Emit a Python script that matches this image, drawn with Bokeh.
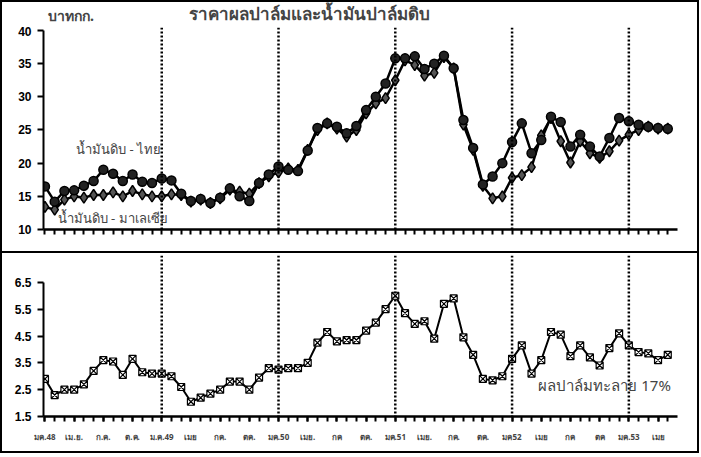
from bokeh.plotting import figure
from bokeh.models import Range1d, FixedTicker, Span, Label
from bokeh.layouts import column
from bokeh.embed import file_html
from bokeh.resources import INLINE

# ---- data (monthly, Jan 2005 .. May 2010) ----
months = list(range(65))
thai_cpo = [16.5, 14.2, 15.8, 15.9, 16.6, 17.3, 19.0, 18.4, 17.3, 18.3, 17.2, 17.0, 17.7, 17.4, 15.4,
            14.3, 14.6, 14.0, 14.8, 16.2, 15.0, 14.3, 17.0, 18.3, 19.5, 19.0, 18.8, 21.9, 25.3, 26.0,
            25.5, 24.5, 25.6, 28.0, 30.0, 32.0, 35.8, 35.8, 36.1, 34.2, 35.0, 36.2, 34.3, 26.5, 22.3,
            16.8, 18.0, 20.0, 23.2, 26.0, 21.5, 23.5, 27.0, 26.2, 22.5, 24.3, 22.5, 21.0, 23.8, 26.8,
            26.3, 25.8, 25.5, 25.3, 25.2]
malay_cpo = [13.4, 13.0, 14.5, 15.0, 14.8, 15.2, 15.2, 15.6, 15.0, 15.8, 15.3, 15.0, 15.0, 15.3, 15.2,
             14.2, 14.5, 14.0, 14.7, 16.0, 15.7, 15.4, 17.0, 18.0, 18.6, 19.2, 19.0, 22.0, 25.0, 26.0,
             25.2, 24.0, 25.0, 27.5, 29.0, 29.8, 32.5, 35.5, 34.8, 33.2, 33.6, 36.0, 34.3, 25.8, 22.0,
             16.6, 14.7, 15.0, 17.8, 18.2, 19.4, 24.2, 26.8, 23.3, 20.1, 23.3, 21.5, 20.8, 21.8, 23.4,
             24.3, 25.0, 25.5, 25.2, 25.2]
palm_ffb = [2.9, 2.3, 2.5, 2.5, 2.7, 3.2, 3.6, 3.55, 3.05, 3.65,
            3.15, 3.1, 3.1, 3.0, 2.6, 2.05, 2.2, 2.35, 2.5, 2.8,
            2.8, 2.5, 2.95, 3.3, 3.25, 3.3, 3.3, 3.5, 4.25, 4.65,
            4.3, 4.35, 4.35, 4.7, 5.0, 5.5, 6.0, 5.35, 4.95, 5.05,
            4.4, 5.7, 5.9, 4.45, 3.8, 2.9, 2.85, 3.0, 3.65, 4.15,
            3.1, 3.6, 4.65, 4.55, 3.75, 4.15, 3.7, 3.4, 4.05, 4.6,
            4.15, 3.9, 3.85, 3.6, 3.8]
tick_positions = list(range(0, 65, 3))
tick_labels = ["มค.48", "เม.ย.", "ก.ค.", "ต.ค.", "ม.ค.49", "เมย", "กค.", "ตค.",
               "มค.50", "เมย.", "กค", "ตค.", "มค.51", "เมย.", "กค.", "ตค.",
               "มค52", "เมย", "กค", "ตค", "มค.53", "เมย"]
year_starts = [12, 24, 36, 48, 60]
top_ticks = [10, 15, 20, 25, 30, 35, 40]
bottom_ticks = [1.5, 2.5, 3.5, 4.5, 5.5, 6.5]
title_text = "ราคาผลปาล์มและน้ำมันปาล์มดิบ"
unit_text = "บาทกก."

W = 695
HEAD = 24


def style_axes(p, yticks, ybounds, xmajor):
    p.xgrid.visible = False
    p.ygrid.visible = False
    p.outline_line_color = None
    p.yaxis.ticker = FixedTicker(ticks=yticks)
    p.yaxis.bounds = ybounds
    p.yaxis.axis_line_width = 2
    p.yaxis.major_tick_line_width = 2
    p.yaxis.major_tick_out = 6
    p.yaxis.major_tick_in = 0
    p.yaxis.minor_tick_line_color = None
    p.yaxis.major_label_text_font = "Liberation Sans"
    p.yaxis.major_label_text_font_style = "bold"
    p.yaxis.major_label_text_font_size = "12px"
    p.yaxis.major_label_text_color = "black"
    p.yaxis.major_label_standoff = 6
    p.xaxis.ticker = FixedTicker(ticks=xmajor, minor_ticks=months)
    p.xaxis.axis_line_width = 2.5
    p.xaxis.major_tick_line_width = 2
    p.xaxis.major_tick_out = 5
    p.xaxis.major_tick_in = 0
    p.xaxis.minor_tick_line_width = 2
    p.xaxis.minor_tick_line_color = "black"
    p.xaxis.minor_tick_out = 5
    p.xaxis.minor_tick_in = 0
    for m in year_starts:
        p.add_layout(Span(location=m, dimension="height", line_color="black",
                          line_width=2.5, line_dash="2 2"))


# ---- header strip with the unit and the title ----
head = figure(width=W, height=HEAD, x_range=Range1d(0, W), y_range=Range1d(0, HEAD),
              output_backend="svg", toolbar_location=None,
              x_axis_location=None, y_axis_location=None,
              min_border_left=0, min_border_right=0, min_border_top=0, min_border_bottom=0)
head.grid.visible = False
head.outline_line_color = None
head.add_layout(Label(x=5, y=11, text=unit_text, text_font="Noto Sans",
                      text_font_style="bold", text_font_size="14px",
                      text_align="left", text_baseline="middle"))
head.add_layout(Label(x=292, y=11.8, text=title_text,
                      text_font="Liberation Serif", text_font_style="bold",
                      text_font_size="17px", text_align="center", text_baseline="middle"))

# ---- top panel: crude palm oil ----
p1 = figure(width=W, height=249 - HEAD, x_range=Range1d(-0.15, 65), y_range=Range1d(10, 40.45),
            output_backend="svg", toolbar_location=None,
            min_border_left=41, min_border_right=W - 41 - 634, min_border_top=1,
            min_border_bottom=22)
style_axes(p1, top_ticks, (10, 40), [])

p1.line(months, malay_cpo, line_color="black", line_width=2.5)
p1.line(months, thai_cpo, line_color="black", line_width=2.5)
p1.scatter(months, malay_cpo, marker="diamond", size=11, fill_color="#555555",
           line_color="black", line_width=1.5)
p1.scatter(months, thai_cpo, marker="circle", size=9, fill_color="#222222",
           line_color="black", line_width=1.5)

p1.add_layout(Label(x=3.2, y=22.1, text="น้ำมันดิบ - ไทย", text_font="Noto Sans",
                    text_font_size="13px", text_align="left", text_baseline="middle"))
p1.add_layout(Label(x=1.3, y=11.8, text="น้ำมันดิบ - มาเลเซีย", text_font="Noto Sans",
                    text_font_size="13px", text_align="left", text_baseline="middle"))

# ---- bottom panel: fresh fruit bunches ----
p2 = figure(width=W, height=200, x_range=p1.x_range, y_range=Range1d(1.5, 7.5),
            output_backend="svg", toolbar_location=None,
            min_border_left=41, min_border_right=W - 41 - 634, min_border_top=2, min_border_bottom=37,
            styles={"border-top": "2px solid black"})
style_axes(p2, bottom_ticks, (1.5, 6.5), tick_positions)
p2.xaxis.major_label_overrides = {pos: lab for pos, lab in zip(tick_positions, tick_labels)}
p2.xaxis.major_label_text_font = "Noto Sans"
p2.xaxis.major_label_text_font_style = "bold"
p2.xaxis.major_label_text_font_size = "8px"
p2.xaxis.major_label_standoff = 9

p2.line(months, palm_ffb, line_color="black", line_width=2)
p2.scatter(months, palm_ffb, marker="square_x", size=7, fill_color="white",
           line_color="black", line_width=1.2)
p2.add_layout(Label(x=50.7, y=2.66, text="ผลปาล์มทะลาย 17%", text_font="Noto Sans",
                    text_font_size="15px", text_align="left", text_baseline="middle"))

layout = column(head, p1, p2, spacing=0, styles={"border": "2px solid black"})
open("out.html", "w").write(file_html(layout, INLINE))
